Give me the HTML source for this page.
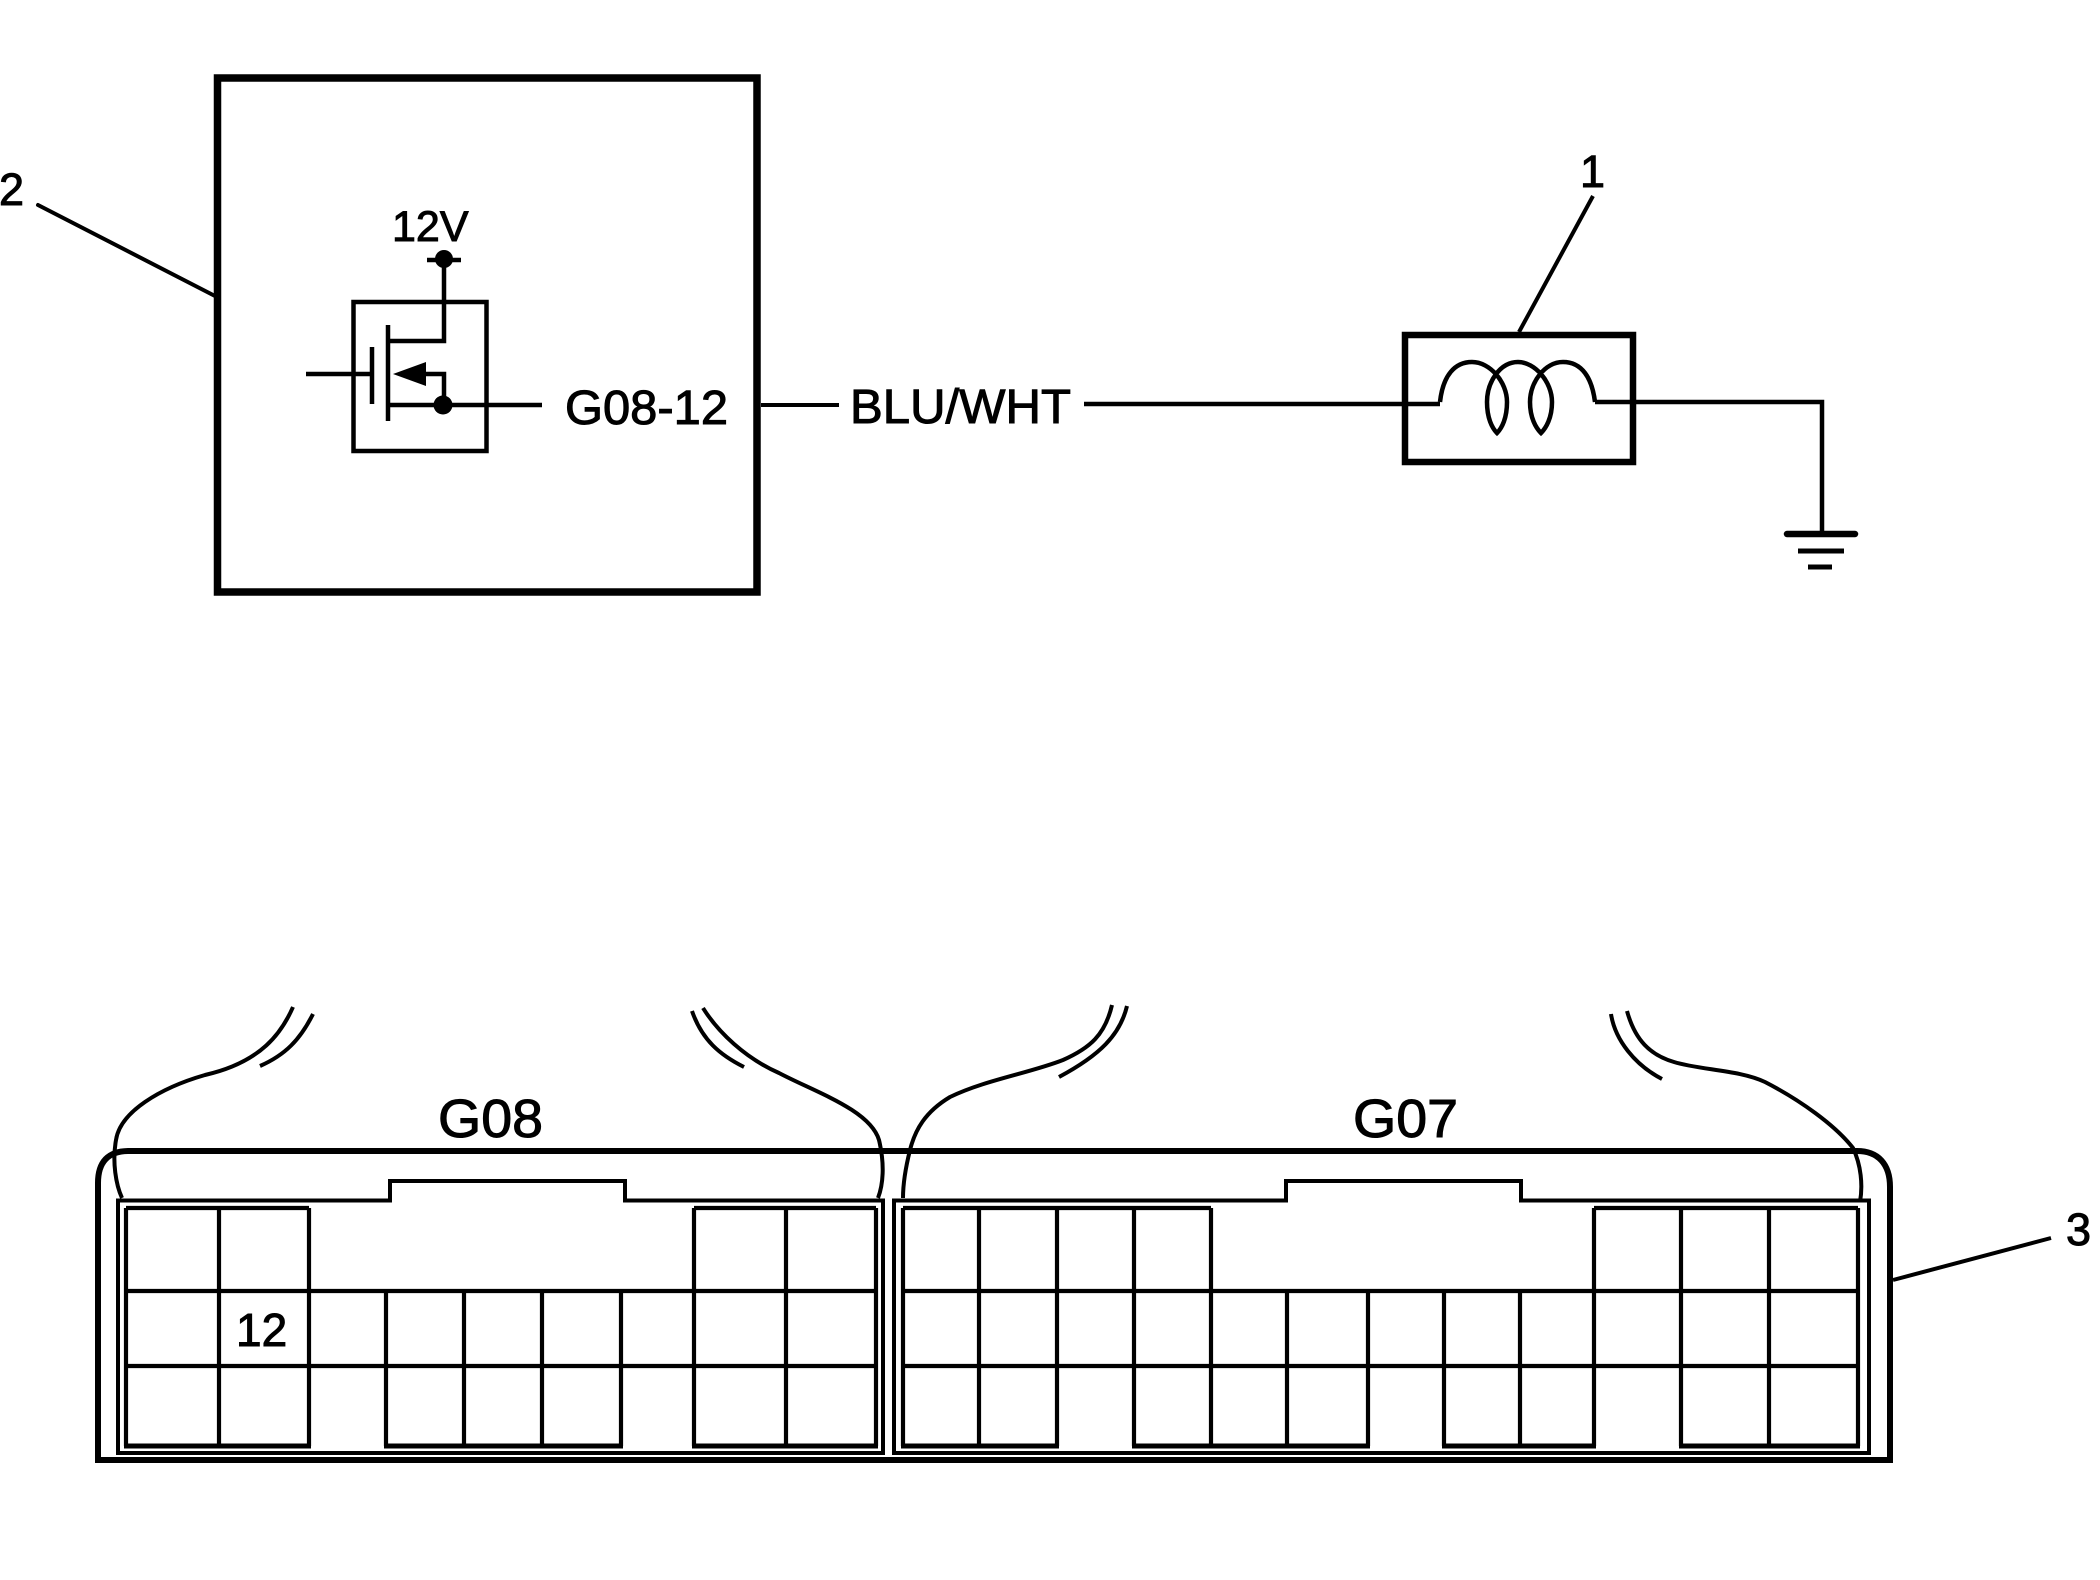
<!DOCTYPE html>
<html><head><meta charset="utf-8"><style>
html,body{margin:0;padding:0;background:#fff;width:2100px;height:1580px;overflow:hidden}
svg{display:block}
text{font-family:"Liberation Sans",sans-serif;fill:#000;stroke:#000;stroke-width:1}
.l{fill:none;stroke:#000}
</style></head><body>
<svg width="2100" height="1580" viewBox="0 0 2100 1580" xmlns="http://www.w3.org/2000/svg">
<rect width="2100" height="1580" fill="#fff"/>
<!-- controller -->
<rect class="l" x="217.500" y="78" width="539.500" height="514" stroke-width="7.500"/>
<path class="l" stroke-width="4" stroke-linecap="round" d="M38 205L215 296"/>
<text x="-1" y="205" font-size="45">2</text>
<text x="392" y="241" font-size="43">12V</text>
<rect class="l" x="353.500" y="302" width="133" height="149" stroke-width="4.500"/>
<circle cx="444" cy="259" r="9"/>
<path class="l" stroke-width="4.500" d="M427 260H461M444 260V341H389"/>
<path class="l" stroke-width="4.500" d="M388 325V421M372 347V404M306 374H372"/>
<path d="M393 374L426 362V386Z"/>
<path class="l" stroke-width="4.500" d="M424 374H444V405M389 405H542"/>
<circle cx="443" cy="405" r="9.500"/>
<text x="565" y="424" font-size="48" textLength="163" lengthAdjust="spacingAndGlyphs">G08-12</text>
<path class="l" stroke-width="4" d="M761 405H839"/>
<text x="850" y="423" font-size="48" textLength="221" lengthAdjust="spacingAndGlyphs">BLU/WHT</text>
<path class="l" stroke-width="4.500" d="M1084 404H1440"/>
<!-- coil box -->
<rect class="l" x="1405" y="335" width="228" height="127" stroke-width="6.500"/>
<path class="l" stroke-width="4" d="M1593 196L1519 332"/>
<text x="1580" y="187" font-size="45">1</text>
<path class="l" stroke-width="4.500" d="M1440 402C1443 375 1455 362 1472 362C1490 362 1507 382 1507 402C1507 418 1502 428 1497 433C1492 428 1487 418 1487 402C1487 382 1500 362 1518 362C1535 362 1552 382 1552 402C1552 418 1546 428 1541 433C1536 428 1530 418 1530 402C1530 382 1545 362 1563 362C1582 362 1592 378 1595 402"/>
<path class="l" stroke-width="4.500" d="M1595 402H1822V532"/>
<path class="l" stroke-width="6.500" stroke-linecap="round" d="M1787 534H1855"/>
<path class="l" stroke-width="5" d="M1798 551H1844M1808 567H1832"/>
<!-- housing -->
<path class="l" stroke-width="6" d="M98 1460V1183C98 1162 108 1151 129 1151H1857C1878 1151 1890 1164 1890 1187V1460Z"/>
<path class="l" stroke-width="4" d="M1893 1280L2051 1238"/>
<text x="2066" y="1245" font-size="45">3</text>
<text x="438" y="1137" font-size="54" textLength="105" lengthAdjust="spacingAndGlyphs">G08</text>
<text x="1353" y="1137" font-size="54" textLength="105" lengthAdjust="spacingAndGlyphs">G07</text>
<text x="236" y="1346" font-size="46">12</text>
<!-- connector frames -->
<path class="l" stroke-width="4" d="M118 1453V1200.500H390V1181H625V1200.500H883V1453Z"/>
<path class="l" stroke-width="4" d="M894 1453V1200.500H1286V1181H1521V1200.500H1869V1453Z"/>
<!-- G08 grid -->
<path class="l" stroke-width="4.200" d="M126 1208H309M694 1208H876M126 1291H876M126 1366H876
M126 1208V1446M219 1208V1446M309 1208V1446M386 1291V1446M464 1291V1446M542 1291V1446M621 1291V1446M694 1208V1446M786 1208V1446M876 1208V1446"/>
<path class="l" stroke-width="5" d="M124 1446H311M384 1446H623M692 1446H878"/>
<!-- G07 grid -->
<path class="l" stroke-width="4.200" d="M903 1208H1211M1594 1208H1858M903 1291H1858M903 1366H1858
M903 1208V1446M979 1208V1446M1057 1208V1446M1134 1208V1446M1211 1208V1446M1287 1291V1446M1368 1291V1446M1444 1291V1446M1520 1291V1446M1594 1208V1446M1681 1208V1446M1769 1208V1446M1858 1208V1446"/>
<path class="l" stroke-width="5" d="M901 1446H1059M1132 1446H1370M1442 1446H1596M1679 1446H1860"/>
<!-- harness curves -->
<path class="l" stroke-width="4" d="M293 1007C282 1032 262 1062 205 1075C160 1088 120 1112 116 1140C112 1162 116 1185 122 1198"/>
<path class="l" stroke-width="4" d="M313 1014C300 1040 285 1055 260 1066"/>
<path class="l" stroke-width="4" d="M703 1008C718 1032 745 1058 779 1073C815 1092 870 1110 879 1140C885 1165 883 1185 878 1198"/>
<path class="l" stroke-width="4" d="M692 1011C702 1040 720 1055 744 1067"/>
<path class="l" stroke-width="4" d="M1112 1005C1105 1035 1090 1048 1063 1060C1030 1073 985 1080 950 1097C925 1112 915 1130 910 1150C905 1170 903 1185 903 1198"/>
<path class="l" stroke-width="4" d="M1127 1006C1120 1035 1100 1055 1059 1077"/>
<path class="l" stroke-width="4" d="M1627 1011C1635 1040 1650 1055 1674 1062C1700 1070 1740 1070 1765 1082C1800 1100 1835 1125 1853 1148C1861 1165 1863 1185 1860 1202"/>
<path class="l" stroke-width="4" d="M1611 1014C1615 1040 1635 1065 1662 1079"/>
</svg>
</body></html>
